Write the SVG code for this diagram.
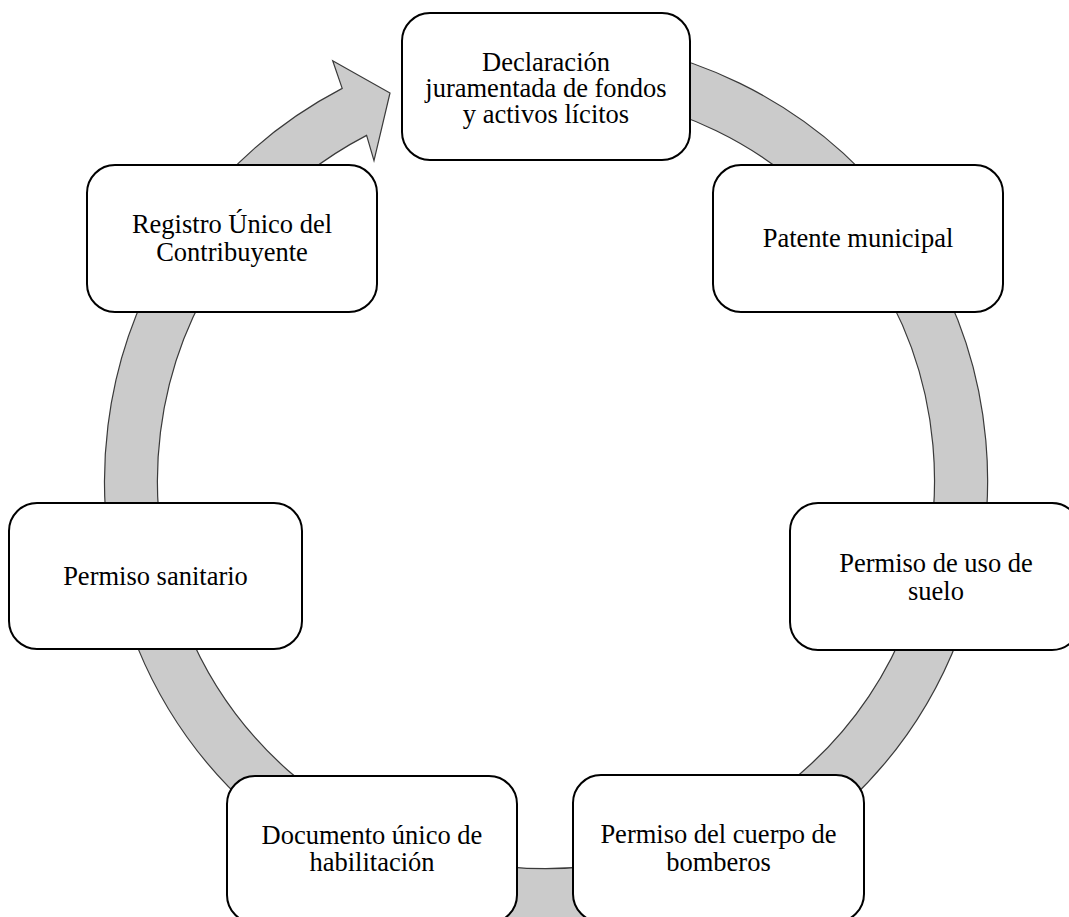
<svg xmlns="http://www.w3.org/2000/svg" width="1069" height="917" viewBox="0 0 1069 917">
  <style>
    .band { fill: #cbcbcb; stroke: #3a3a3a; stroke-width: 1.2; stroke-linejoin: miter; }
    .box { fill: #ffffff; stroke: #000000; stroke-width: 2; }
    .lbl { font-family: "Liberation Serif", "Times New Roman", serif; font-size: 26.5px; fill: #000000; text-anchor: middle; }
  </style>
  <rect x="0" y="0" width="1069" height="917" fill="#ffffff"/>

  <!-- circular arrow running clockwise behind the steps -->
  <g id="connectors">
    <path class="band" d="M 546 38.5 A 441.5 441.5 0 1 1 342.2 88.4 L 332.7 60.7 L 390 93 L 374 160.7 L 366.6 135.4 A 388.5 388.5 0 1 0 546 91.5 Z"/>
  </g>

  <g id="node-declaracion">
    <rect class="box" x="402" y="13" width="288" height="147" rx="28" ry="28"/>
    <text class="lbl" x="546" y="71">Declaración</text>
    <text class="lbl" x="546" y="97">juramentada de fondos</text>
    <text class="lbl" x="546" y="123">y activos lícitos</text>
  </g>

  <g id="node-patente">
    <rect class="box" x="713" y="165" width="290" height="147" rx="28" ry="28"/>
    <text class="lbl" x="858" y="247">Patente municipal</text>
  </g>

  <g id="node-uso-suelo">
    <rect class="box" x="790" y="503" width="290" height="147" rx="28" ry="28"/>
    <text class="lbl" x="936" y="572">Permiso de uso de</text>
    <text class="lbl" x="936" y="599.5">suelo</text>
  </g>

  <g id="node-bomberos">
    <rect class="box" x="573" y="775" width="291" height="147" rx="28" ry="28"/>
    <text class="lbl" x="718.5" y="843">Permiso del cuerpo de</text>
    <text class="lbl" x="718.5" y="870.5">bomberos</text>
  </g>

  <g id="node-documento">
    <rect class="box" x="227" y="776" width="290" height="147" rx="28" ry="28"/>
    <text class="lbl" x="372" y="843.5">Documento único de</text>
    <text class="lbl" x="372" y="871">habilitación</text>
  </g>

  <g id="node-sanitario">
    <rect class="box" x="9" y="503" width="293" height="146" rx="28" ry="28"/>
    <text class="lbl" x="155.5" y="585">Permiso sanitario</text>
  </g>

  <g id="node-ruc">
    <rect class="box" x="87" y="165" width="290" height="147" rx="28" ry="28"/>
    <text class="lbl" x="232" y="232.5">Registro Único del</text>
    <text class="lbl" x="232" y="260.5">Contribuyente</text>
  </g>
</svg>
